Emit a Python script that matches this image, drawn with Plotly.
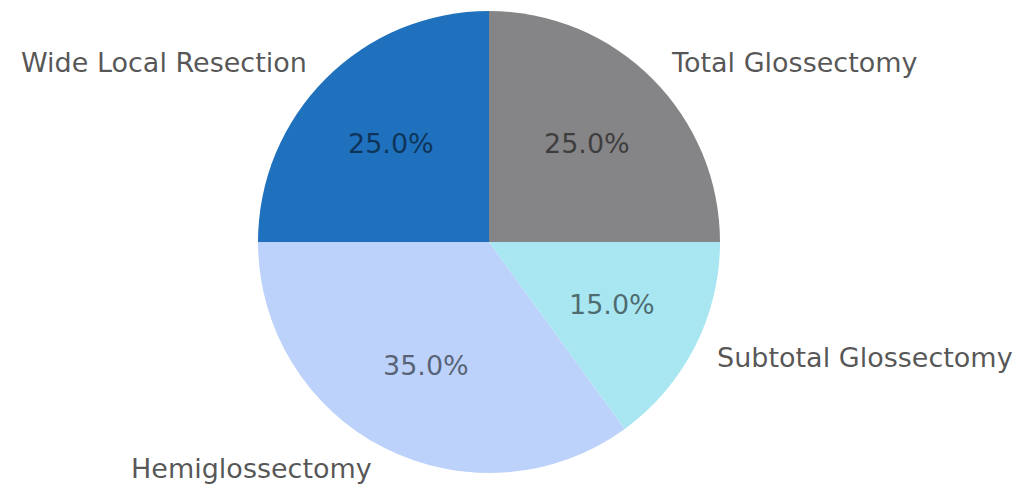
import math
import plotly.graph_objects as go

# Surgical procedure shares
procedures = ["Wide Local Resection", "Hemiglossectomy", "Subtotal Glossectomy", "Total Glossectomy"]
shares = [25, 35, 15, 25]
colors = ["#1f70bd", "#bcd2fa", "#a8e6f1", "#858486"]

W, H = 1020, 499
cx, cy, R = 489, 242, 231  # pie centre and radius in pixels

fig = go.Figure(go.Pie(
    labels=procedures,
    values=shares,
    marker=dict(colors=colors, line=dict(width=0)),
    sort=False,
    direction="counterclockwise",
    rotation=-90,
    textinfo="none",
    hoverinfo="label+percent",
    showlegend=False,
    domain=dict(x=[(cx - R) / W, (cx + R) / W],
                y=[(H - cy - R) / H, (H - cy + R) / H]),
))

# Labels outside each wedge and percentages inside, placed at the wedge mid-angle
total = sum(shares)
start = 90.0
annotations = []
for name, v in zip(procedures, shares):
    span = 360.0 * v / total
    mid = math.radians(start + span / 2)
    start += span
    c, s = math.cos(mid), math.sin(mid)
    annotations.append(dict(
        x=(cx + 1.1 * R * c) / W, y=(H - cy + 1.1 * R * s) / H,
        xref="paper", yref="paper", showarrow=False,
        text=name, xanchor="left" if c > 0 else "right", yanchor="middle",
        font=dict(family="DejaVu Sans", size=27, color="rgba(0,0,0,0.68)"),
    ))
    annotations.append(dict(
        x=(cx + 0.6 * R * c) / W, y=(H - cy + 0.6 * R * s) / H,
        xref="paper", yref="paper", showarrow=False,
        text=f"{100.0 * v / total:.1f}%", xanchor="center", yanchor="middle",
        font=dict(family="DejaVu Sans", size=27, color="rgba(0,0,0,0.55)"),
    ))

fig.update_layout(
    width=W, height=H,
    margin=dict(l=0, r=0, t=0, b=0),
    paper_bgcolor="white", plot_bgcolor="white",
    annotations=annotations,
)

fig.write_html("out.html")
